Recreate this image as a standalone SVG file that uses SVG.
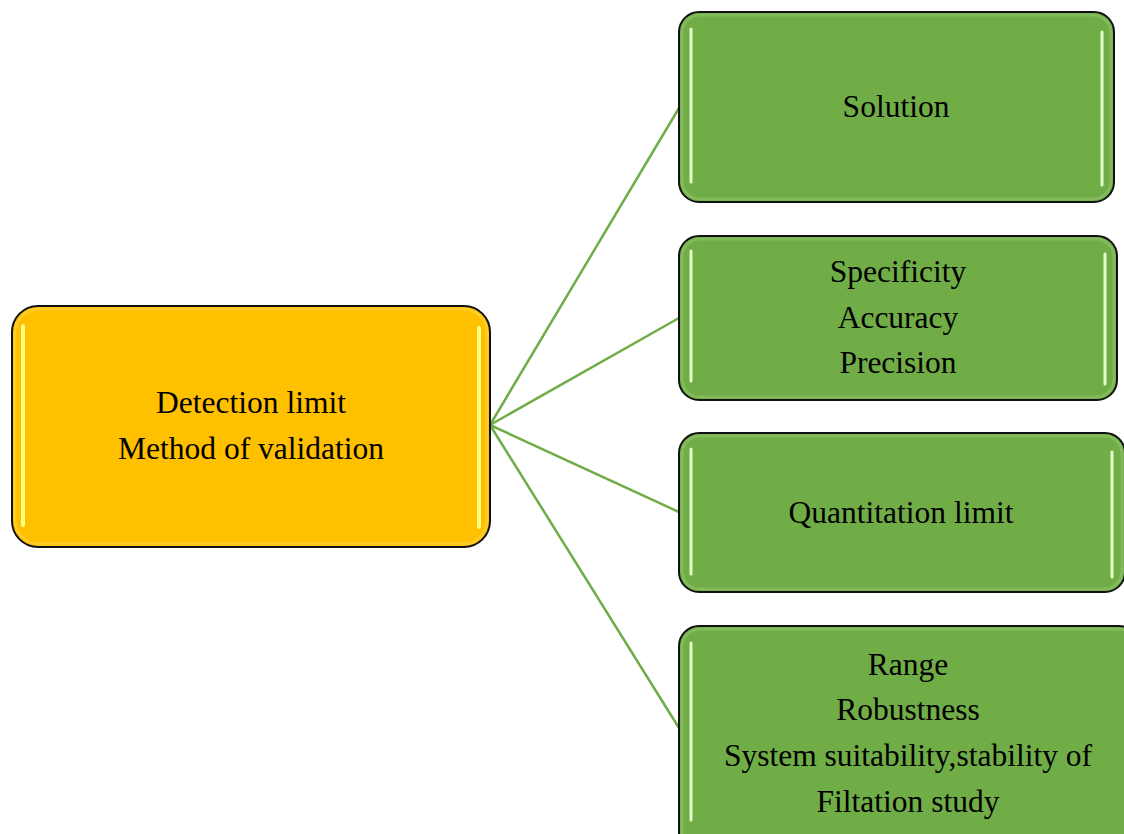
<svg xmlns="http://www.w3.org/2000/svg" width="1124" height="834" viewBox="0 0 1124 834">
<defs>
<style>
.box{stroke:#111;stroke-width:2}
.g{fill:#70AD47}
.o{fill:#FFC000}
.glowg{fill:none;stroke:#9fd07e;stroke-width:3;opacity:0.4}
.glowo{fill:none;stroke:#ffd84d;stroke-width:3;opacity:0.5}
.hg{stroke:#e4ffc8;stroke-width:3;stroke-linecap:round}
.ho{stroke:#ffff80;stroke-width:4;stroke-linecap:round}
.t{font-family:"Liberation Serif","Times New Roman",serif;font-size:31.5px;fill:#000;text-anchor:middle}
.c{stroke:#70AD47;stroke-width:2.5;fill:none}
</style>
</defs>
<rect width="1124" height="834" fill="#fff"/>
<g id="connectors">
<line class="c" x1="490" y1="425" x2="679" y2="108"/>
<line class="c" x1="490" y1="425" x2="679" y2="318"/>
<line class="c" x1="490" y1="425" x2="679" y2="512"/>
<line class="c" x1="490" y1="425" x2="679" y2="728"/>
</g>
<g id="root">
<rect class="box o" x="12" y="306" width="478" height="241" rx="26"/>
<rect class="glowo" x="15" y="309" width="472" height="235" rx="24"/>
<line class="ho" x1="23" y1="326" x2="23" y2="525"/>
<line class="ho" x1="479" y1="328" x2="479" y2="527"/>
<text class="t" x="251" y="413">Detection limit</text>
<text class="t" x="251" y="459">Method of validation</text>
</g>
<g id="n1">
<rect class="box g" x="679" y="12" width="435" height="190" rx="20"/>
<rect class="glowg" x="682" y="15" width="429" height="184" rx="18"/>
<line class="hg" x1="691" y1="29" x2="691" y2="182"/>
<line class="hg" x1="1102" y1="32" x2="1102" y2="185"/>
<text class="t" x="896" y="117">Solution</text>
</g>
<g id="n2">
<rect class="box g" x="679" y="236" width="438" height="164" rx="20"/>
<rect class="glowg" x="682" y="239" width="432" height="158" rx="18"/>
<line class="hg" x1="691" y1="251" x2="691" y2="381"/>
<line class="hg" x1="1105" y1="254" x2="1105" y2="384"/>
<text class="t" x="898" y="282">Specificity</text>
<text class="t" x="898" y="328">Accuracy</text>
<text class="t" x="898" y="373">Precision</text>
</g>
<g id="n3">
<rect class="box g" x="679" y="433" width="446" height="159" rx="20"/>
<rect class="glowg" x="682" y="436" width="440" height="153" rx="18"/>
<line class="hg" x1="691" y1="449" x2="691" y2="574"/>
<line class="hg" x1="1112" y1="452" x2="1112" y2="577"/>
<text class="t" x="901" y="523">Quantitation limit</text>
</g>
<g id="n4">
<rect class="box g" x="679" y="626" width="460" height="230" rx="20"/>
<rect class="glowg" x="682" y="629" width="454" height="224" rx="18"/>
<line class="hg" x1="691" y1="643" x2="691" y2="820"/>
<text class="t" x="908" y="675">Range</text>
<text class="t" x="908" y="720">Robustness</text>
<text class="t" x="908" y="766">System suitability,stability of</text>
<text class="t" x="908" y="812">Filtation study</text>
</g>
</svg>
